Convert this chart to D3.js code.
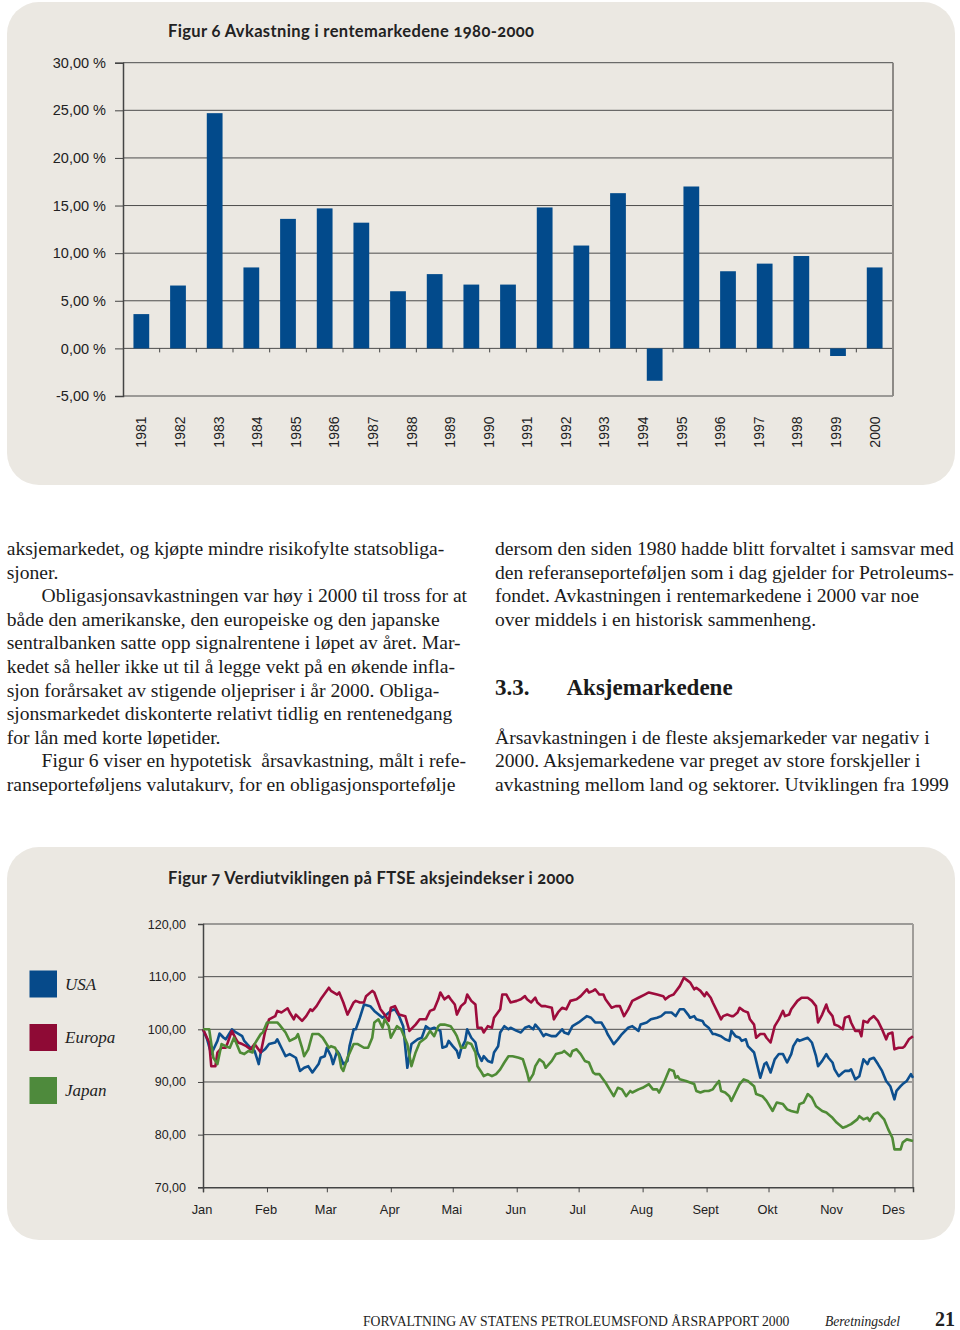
<!DOCTYPE html>
<html>
<head>
<meta charset="utf-8">
<title>Figur 6 og Figur 7</title>
<script src="https://cdn.jsdelivr.net/npm/d3@7"></script>
<style>
  body { margin: 0; background: #fff; }
  svg { display: block; }
  .panel { fill: #ebe8e2; }
  .fig-title { font-family: Lato, "Open Sans", sans-serif; font-weight: 700; font-size: 16.5px; fill: #222; font-variant-numeric: oldstyle-nums; }
  .body-text { font-family: "Liberation Serif", "Times New Roman", serif; font-size: 19.6px; fill: #1b1b1b; white-space: pre; }
  .heading { font-family: "Liberation Serif", "Times New Roman", serif; font-size: 23px; font-weight: 700; fill: #1b1b1b; }
  .axis text { font-family: "Liberation Sans", Arial, sans-serif; fill: #222; }
  .axis path, .axis line { stroke: #444; }
  .grid line { stroke: #4d4d4d; stroke-width: 1; }
  .legend text { font-family: "Liberation Serif", "Times New Roman", serif; font-style: italic; font-size: 17px; fill: #222; }
  .footer { font-family: "Liberation Serif", "Times New Roman", serif; fill: #222; }
</style>
</head>
<body>
<svg id="page" width="960" height="1330"></svg>
<script>
// ---- Figur 6: yearly return in the bond markets
const barYears = [1980, 1981, 1982, 1983, 1984, 1985, 1986, 1987, 1988, 1989, 1990,
                  1991, 1992, 1993, 1994, 1995, 1996, 1997, 1998, 1999, 2000];
const barReturns = [3.6, 6.6, 24.7, 8.5, 13.6, 14.7, 13.2, 6.0, 7.8, 6.7, 6.7,
                    14.8, 10.8, 16.3, -3.4, 17.0, 8.1, 8.9, 9.7, -0.8, 8.5];
const yearLabels = ["1981", "1982", "1983", "1984", "1985", "1986", "1987", "1988", "1989", "1990",
                    "1991", "1992", "1993", "1994", "1995", "1996", "1997", "1998", "1999", "2000"];
const pctTicks = [-5, 0, 5, 10, 15, 20, 25, 30];

// ---- Figur 7: FTSE equity indices 2000 (day = days after 1 Jan 2000)
const usaDays = [0,2,4,7,8,10,11,14,16,19,20,23,25,27,28,30,32,35,36,38,40,42,45,47,49,51,53,56,57,59,
  60,62,63,65,66,68,70,71,73,74,76,78,81,83,87,89,91,93,95,97,99,101,104,106,108,110,112,115,
  116,118,119,121,123,124,125,127,128,130,132,133,135,136,138,140,141,143,144,146,148,149,152,154,156,158,160,161,163,165,
  166,169,171,174,175,177,179,182,184,186,188,190,193,195,196,199,201,203,206,208,211,212,215,217,220,222,224,227,229,
  231,233,235,236,238,239,242,243,245,247,248,251,253,255,256,258,260,261,263,264,267,268,270,272,273,275,277,279,281,283,
  285,286,288,289,291,293,295,297,298,300,302,303,305,306,308,310,311,313,314,316,318,320,322,323,325,327,329,331,333,335,
  336,338,339,341,343,344];
const usaValues = [100.0,98.1,95.3,97.8,99.2,98.4,98.1,100.0,99.4,98.7,97.8,96.5,95.9,93.4,95.6,96.2,97.2,97.5,98.1,96.5,
  94.9,95.3,94.6,92.1,92.7,93.0,91.8,93.4,94.6,94.9,96.5,94.9,93.4,95.9,95.3,93.4,94.0,96.8,100.0,100.0,
  102.2,104.7,104.4,103.5,102.2,102.8,103.5,103.8,102.5,100.6,92.7,97.2,98.1,98.4,100.6,100.0,100.3,99.7,
  96.5,96.8,97.8,96.8,95.9,94.6,96.2,97.8,100.0,98.4,97.5,95.6,94.0,94.9,94.0,93.7,95.6,96.8,99.4,100.6,
  100.0,100.3,99.7,99.4,100.3,100.6,100.0,100.9,100.0,98.7,99.1,98.7,98.7,100.0,99.4,99.1,100.6,101.3,101.9,102.5,
  102.2,101.3,101.3,100.0,99.1,97.2,98.1,99.1,100.3,100.6,99.7,100.9,101.3,101.9,102.2,102.5,103.2,103.2,102.5,
  103.8,103.8,102.8,102.2,102.5,101.9,101.6,100.9,100.3,99.1,99.1,98.7,98.1,97.8,99.7,98.7,98.4,97.8,98.1,96.8,
  95.6,94.0,90.8,93.4,93.7,91.8,94.3,95.3,95.3,93.7,95.3,96.8,98.1,97.8,98.1,98.4,97.5,94.9,93.0,94.0,
  95.3,94.6,93.7,92.4,91.1,91.8,92.1,92.1,92.4,90.5,91.1,94.3,93.4,94.3,94.6,93.4,92.1,90.2,89.2,86.7,
  88.3,89.2,89.6,90.2,91.5,90.8];

const europaDays = [0,3,4,6,7,9,11,12,14,16,17,19,21,23,25,28,30,32,35,36,38,41,42,44,45,48,50,52,53,55,
  57,61,62,65,66,68,70,73,74,76,78,79,82,83,86,88,90,91,93,95,98,100,103,105,108,110,112,114,
  115,117,119,120,122,123,125,127,128,130,132,133,135,136,138,140,141,144,145,147,149,152,154,156,157,159,161,162,164,166,
  169,170,172,174,176,178,181,183,186,187,189,190,192,194,195,198,200,202,204,206,208,211,214,216,220,223,224,226,228,
  231,233,235,236,238,239,241,243,244,246,247,249,251,252,254,256,257,259,260,262,264,265,267,268,270,272,273,275,277,279,
  281,282,284,285,288,290,293,295,297,298,300,302,303,305,306,308,310,311,313,314,316,318,319,320,322,323,325,327,329,331,
  332,334,335,337,339,340,342,344];
const europaValues = [100.0,97.5,93.0,93.0,95.6,96.5,96.5,97.5,99.7,98.1,97.5,97.2,96.8,96.2,97.2,95.6,99.4,101.9,102.5,103.5,
  103.2,104.0,103.2,101.9,102.8,101.6,102.5,103.8,103.5,104.4,105.7,107.9,107.3,106.6,107.0,105.1,102.8,105.1,105.4,105.1,
  105.1,106.3,107.3,107.0,103.8,102.8,101.6,104.1,104.4,102.8,102.5,99.7,100.9,101.9,101.9,103.5,103.8,105.7,
  107.0,105.7,106.3,105.7,104.7,102.8,104.4,105.1,106.6,105.4,104.7,100.3,100.3,99.4,100.6,100.3,102.2,103.8,106.6,106.6,
  105.1,105.4,105.7,106.3,105.7,105.1,106.0,105.1,104.4,104.4,104.1,101.9,103.2,104.1,103.8,105.4,105.7,106.3,107.6,107.0,
  107.3,107.6,106.6,106.6,105.7,104.1,104.4,104.4,102.5,103.8,105.4,106.0,106.6,107.0,106.6,106.3,105.7,106.3,106.6,
  108.2,109.8,109.2,108.9,107.6,107.9,107.3,106.3,107.0,106.0,105.1,103.5,101.9,102.5,102.8,102.5,102.5,103.2,104.1,103.5,
  103.2,101.9,100.9,98.4,99.1,99.1,98.4,97.5,100.6,101.9,103.5,102.5,102.8,103.8,105.4,106.0,106.0,105.4,104.4,101.3,
  102.8,104.7,103.5,102.5,100.9,100.6,100.0,102.2,102.5,101.3,99.7,99.7,98.7,101.6,101.3,101.9,102.5,101.6,100.0,98.1,
  99.1,99.4,96.2,96.5,96.5,96.8,98.1,98.7];

const japanDays = [0,3,5,7,9,11,13,15,16,18,20,22,24,25,28,29,31,33,36,37,40,42,45,46,48,49,51,53,56,58,
  61,62,64,66,67,68,70,73,75,78,80,82,83,85,87,88,90,91,94,96,99,101,103,105,108,110,112,114,
  115,117,120,122,123,125,127,128,130,132,133,135,136,138,140,142,144,146,148,150,153,155,157,158,160,161,163,165,166,169,
  171,174,175,178,179,181,183,185,187,189,190,192,195,197,199,201,203,205,207,208,211,213,216,218,220,221,223,224,226,228,229,
  230,231,234,236,238,239,241,243,245,247,248,250,251,253,255,256,258,260,262,264,267,268,271,273,276,278,281,283,285,288,
  289,291,293,295,297,300,302,305,307,310,312,314,317,318,320,322,323,325,327,330,332,334,335,338,339,341,344];
const japanValues = [100.0,100.0,94.6,93.4,97.2,96.8,96.5,98.4,97.5,95.6,95.3,95.9,95.6,97.2,99.1,99.4,101.3,101.3,101.3,100.9,
  99.4,97.8,98.4,99.1,96.5,94.9,96.2,99.1,99.1,98.4,96.5,96.8,96.5,94.9,92.7,92.1,94.6,97.2,97.2,96.5,
  96.5,98.4,101.3,101.9,100.3,101.9,100.6,98.4,100.6,100.0,97.2,93.0,95.6,97.5,98.4,99.7,98.7,100.6,
  100.9,100.9,100.6,99.4,98.7,96.5,96.5,97.5,97.2,95.6,93.0,91.8,91.1,91.5,91.1,91.5,92.4,93.7,94.9,94.9,
  94.6,94.3,91.8,90.2,91.5,93.0,94.3,93.7,92.7,94.0,95.3,95.6,95.9,94.9,95.9,96.2,95.3,94.0,93.7,91.8,
  91.5,91.5,89.9,88.6,87.3,88.9,88.6,87.3,88.3,88.0,88.6,88.9,89.6,88.6,88.6,88.0,89.6,90.5,92.4,92.1,90.8,
  91.1,90.5,90.2,89.9,89.6,88.3,88.0,88.3,88.3,88.6,89.2,90.2,88.3,88.0,87.3,86.4,88.0,89.6,90.5,90.2,
  89.2,87.7,87.3,86.4,84.5,86.1,85.8,84.8,84.5,84.2,85.8,86.1,87.7,87.0,85.4,84.5,84.2,83.2,82.3,81.3,
  81.6,82.0,82.9,83.5,82.9,83.2,82.6,83.9,84.2,82.9,81.0,79.4,77.2,77.2,78.5,79.1,78.8];

const indexTicks = [70, 80, 90, 100, 110, 120];
const monthLabels = ["Jan", "Feb", "Mar", "Apr", "Mai", "Jun", "Jul", "Aug", "Sept", "Okt", "Nov", "Des"];
const seriesNames = ["USA", "Europa", "Japan"];
const seriesColors = ["#0d4f8e", "#9d0c3c", "#4f8b36"];
const legendColors = ["#064a8a", "#8e0a35", "#4e8a3c"];

// ---- page text
const leftLines = [
  ["aksjemarkedet, og kjøpte mindre risikofylte statsobliga-", 0],
  ["sjoner.", 0],
  ["Obligasjonsavkastningen var høy i 2000 til tross for at", 1],
  ["både den amerikanske, den europeiske og den japanske", 0],
  ["sentralbanken satte opp signalrentene i løpet av året. Mar-", 0],
  ["kedet så heller ikke ut til å legge vekt på en økende infla-", 0],
  ["sjon forårsaket av stigende oljepriser i år 2000. Obliga-", 0],
  ["sjonsmarkedet diskonterte relativt tidlig en rentenedgang", 0],
  ["for lån med korte løpetider.", 0],
  ["Figur 6 viser en hypotetisk  årsavkastning, målt i refe-", 1],
  ["ranseporteføljens valutakurv, for en obligasjonsportefølje", 0]
];
const rightLines = [
  ["dersom den siden 1980 hadde blitt forvaltet i samsvar med", 0],
  ["den referanseporteføljen som i dag gjelder for Petroleums-", 1],
  ["fondet. Avkastningen i rentemarkedene i 2000 var noe", 2],
  ["over middels i en historisk sammenheng.", 3],
  ["Årsavkastningen i de fleste aksjemarkeder var negativ i", 8],
  ["2000. Aksjemarkedene var preget av store forskjeller i", 9],
  ["avkastning mellom land og sektorer. Utviklingen fra 1999", 10]
];

const svg = d3.select("#page");
const comma2 = d => d3.format(".2f")(d).replace(".", ",").replace("\u2212", "-");

// ============ panel 1 ============
svg.append("rect").attr("class", "panel")
  .attr("x", 7).attr("y", 2).attr("width", 948).attr("height", 483).attr("rx", 32);

svg.append("text").attr("class", "fig-title")
  .attr("x", 168).attr("y", 37).attr("textLength", 366).attr("lengthAdjust", "spacing")
  .text("Figur 6 Avkastning i rentemarkedene 1980-2000");

const p1 = {left: 123, right: 893, top: 62.7, bottom: 396};
const x1 = d3.scaleBand().domain(barYears).range([p1.left, p1.right])
  .paddingInner(0.57).paddingOuter(0.285);
const y1 = d3.scaleLinear().domain([-5, 30]).range([p1.bottom, p1.top]);

const g1 = svg.append("g");
g1.append("g").attr("class", "grid")
  .selectAll("line").data(pctTicks).join("line")
  .attr("x1", p1.left).attr("x2", p1.right)
  .attr("y1", d => y1(d)).attr("y2", d => y1(d));

g1.append("line")
  .attr("x1", p1.right).attr("x2", p1.right).attr("y1", p1.top).attr("y2", p1.bottom)
  .attr("stroke", "#8d8a86").attr("stroke-width", 2);

const yAxis1 = g1.append("g").attr("class", "axis")
  .attr("transform", `translate(${p1.left},0)`)
  .call(d3.axisLeft(y1).tickValues(pctTicks).tickSize(8).tickPadding(9)
    .tickFormat(d => comma2(d) + " %"));
yAxis1.selectAll("text").style("font-size", "14.5px");
yAxis1.select(".domain").attr("stroke-width", 1.5);

// bars
g1.selectAll("rect.bar").data(barYears).join("rect").attr("class", "bar")
  .attr("x", d => x1(d))
  .attr("width", x1.bandwidth())
  .attr("y", (d, i) => y1(Math.max(0, barReturns[i])))
  .attr("height", (d, i) => Math.abs(y1(barReturns[i]) - y1(0)))
  .attr("fill", "#024a8b");

// category ticks on the zero line
const boundaries = barYears.slice(0, -1).map(d => x1(d) + x1.bandwidth() / 2 + x1.step() / 2);
g1.selectAll("line.ctick").data(boundaries).join("line").attr("class", "ctick")
  .attr("x1", d => d).attr("x2", d => d)
  .attr("y1", y1(0)).attr("y2", y1(0) + 4)
  .attr("stroke", "#444");

const xl = d3.scalePoint().domain(yearLabels)
  .range([x1(barYears[0]) + x1.bandwidth() / 2, x1(barYears[barYears.length - 1]) + x1.bandwidth() / 2]);
g1.append("g").attr("class", "axis")
  .selectAll("text").data(yearLabels).join("text")
  .attr("transform", d => `translate(${xl(d) + 5},416.5) rotate(-90)`)
  .attr("text-anchor", "end")
  .style("font-size", "14px")
  .text(d => d);

// ============ body text ============
const lineY = i => 555 + 23.6 * i;
svg.append("g").selectAll("text").data(leftLines).join("text")
  .attr("class", "body-text")
  .attr("x", d => d[1] ? 41.5 : 6.7)
  .attr("y", (d, i) => lineY(i))
  .text(d => d[0]);
svg.append("g").selectAll("text").data(rightLines).join("text")
  .attr("class", "body-text")
  .attr("x", 495)
  .attr("y", d => lineY(d[1]))
  .text(d => d[0]);
svg.append("text").attr("class", "heading").attr("x", 495).attr("y", 695).text("3.3.");
svg.append("text").attr("class", "heading").attr("x", 566.5).attr("y", 695).text("Aksjemarkedene");

// ============ panel 2 ============
svg.append("rect").attr("class", "panel")
  .attr("x", 7).attr("y", 847).attr("width", 948).attr("height", 393).attr("rx", 32);

svg.append("text").attr("class", "fig-title")
  .attr("x", 168).attr("y", 884).attr("textLength", 406).attr("lengthAdjust", "spacing")
  .text("Figur 7 Verdiutviklingen på FTSE aksjeindekser i 2000");

const p2 = {left: 203, right: 913, top: 924, bottom: 1187.3};
const start = new Date(2000, 0, 1);
const x2 = d3.scaleTime().domain([start, new Date(2000, 11, 10)]).range([p2.left, p2.right]);
const y2 = d3.scaleLinear().domain([70, 120]).range([p2.bottom, p2.top]);

const g2 = svg.append("g");
g2.append("g").attr("class", "grid")
  .selectAll("line").data(indexTicks.slice(1)).join("line")
  .attr("x1", p2.left).attr("x2", p2.right)
  .attr("y1", d => y2(d)).attr("y2", d => y2(d));

g2.append("line")
  .attr("x1", p2.right).attr("x2", p2.right).attr("y1", p2.top).attr("y2", p2.bottom)
  .attr("stroke", "#a09d99").attr("stroke-width", 2);

const yAxis2 = g2.append("g").attr("class", "axis")
  .attr("transform", `translate(${p2.left},0)`)
  .call(d3.axisLeft(y2).tickValues(indexTicks).tickSize(5).tickPadding(12).tickFormat(comma2));
yAxis2.selectAll("text").style("font-size", "12.5px");
yAxis2.select(".domain").attr("stroke-width", 1.5);

const months = d3.timeMonth.range(start, new Date(2000, 11, 2));
const xAxis2 = g2.append("g").attr("class", "axis")
  .attr("transform", `translate(0,${p2.bottom})`)
  .call(d3.axisBottom(x2).tickValues(months).tickSize(5).tickPadding(13)
    .tickFormat((d, i) => monthLabels[i]));
xAxis2.selectAll("text").style("font-size", "12.8px").attr("dx", -1.5);
xAxis2.select(".domain").attr("stroke-width", 1.5);

const series = [
  {days: usaDays, values: usaValues},
  {days: europaDays, values: europaValues},
  {days: japanDays, values: japanValues}
];
const line = d3.line()
  .x(d => x2(d3.timeDay.offset(start, d[0])))
  .y(d => y2(d[1]));
g2.selectAll("path.series").data(series).join("path").attr("class", "series")
  .attr("d", s => line(d3.zip(s.days, s.values)))
  .attr("fill", "none")
  .attr("stroke", (s, i) => seriesColors[i])
  .attr("stroke-width", 2.6)
  .attr("stroke-linejoin", "round");

// legend
const legendY = [970.5, 1024, 1077];
const legend = svg.append("g").attr("class", "legend");
legend.selectAll("rect").data(seriesNames).join("rect")
  .attr("x", 29.5).attr("y", (d, i) => legendY[i])
  .attr("width", 27.5).attr("height", 27)
  .attr("fill", (d, i) => legendColors[i]);
legend.selectAll("text").data(seriesNames).join("text")
  .attr("x", 65).attr("y", (d, i) => legendY[i] + 19)
  .text(d => d);

// ============ footer ============
svg.append("text").attr("class", "footer")
  .attr("x", 363).attr("y", 1326).style("font-size", "13.7px")
  .text("FORVALTNING AV STATENS PETROLEUMSFOND ÅRSRAPPORT 2000");
svg.append("text").attr("class", "footer")
  .attr("x", 825).attr("y", 1326).style("font-size", "13.6px").style("font-style", "italic")
  .text("Beretningsdel");
svg.append("text").attr("class", "footer")
  .attr("x", 935).attr("y", 1326).style("font-size", "20px").style("font-weight", "700")
  .text("21");
</script>
</body>
</html>
